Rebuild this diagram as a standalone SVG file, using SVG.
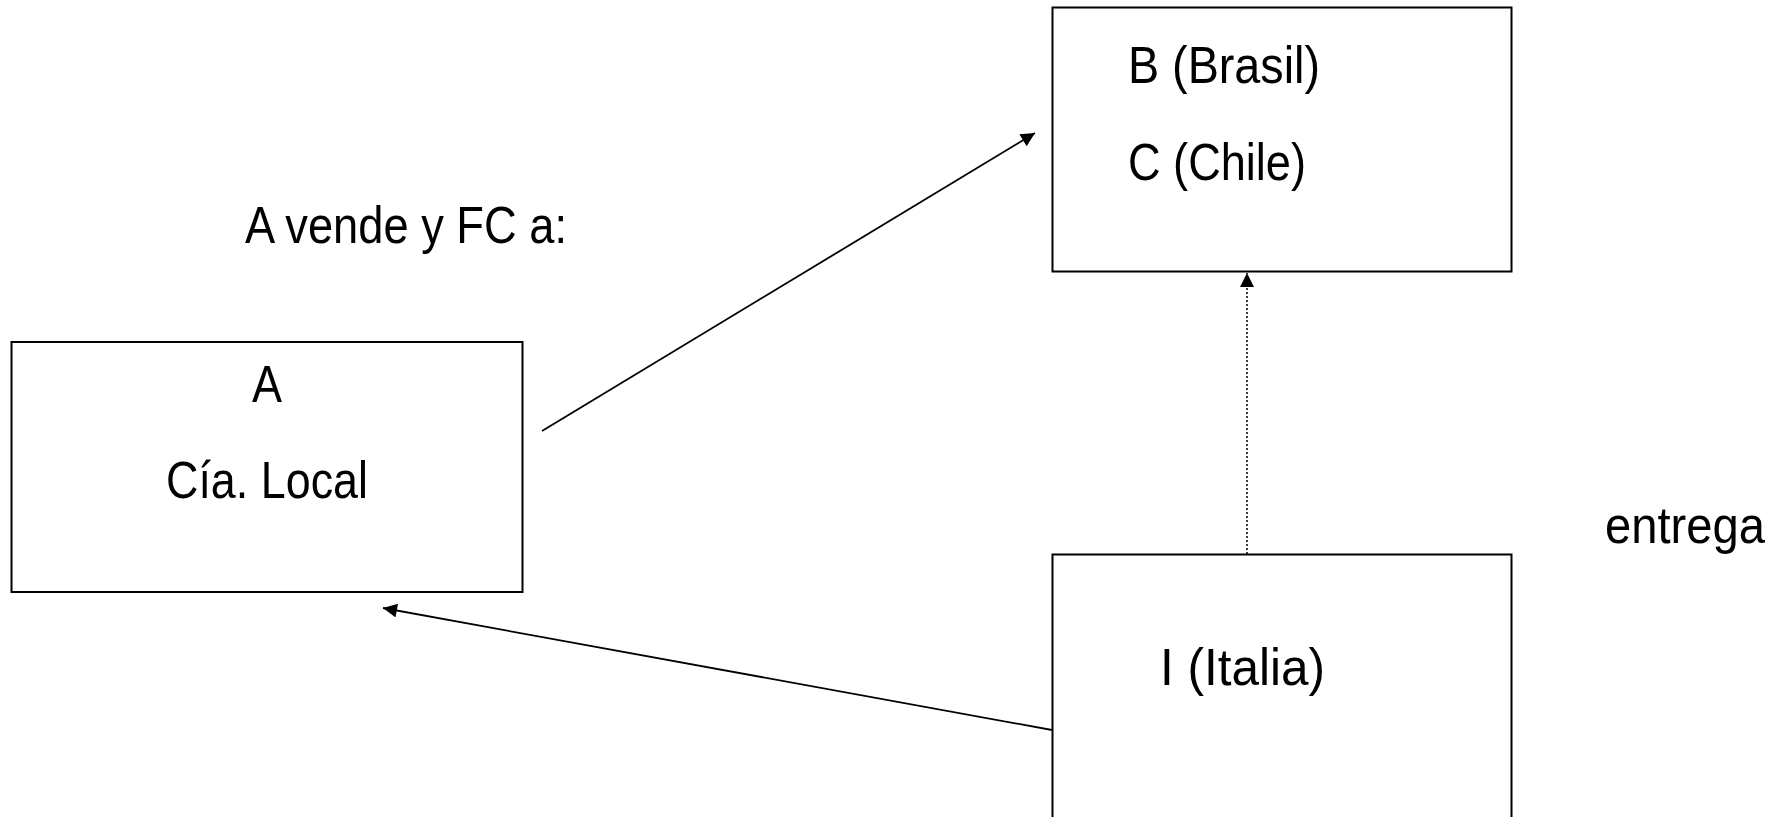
<svg xmlns="http://www.w3.org/2000/svg" width="1789" height="817" viewBox="0 0 1789 817">
<defs>
<style>
.box{fill:#fff;stroke:#000;stroke-width:2}
.t{font-family:"Liberation Sans",Arial,sans-serif;font-size:52px;fill:#000}
.c{stroke:#000;stroke-width:1.8;fill:none}
.d{stroke:#000;stroke-width:1.5;fill:none;stroke-dasharray:2 2}
</style>
<marker id="ahb" viewBox="0 0 10 10" refX="10" refY="5" markerWidth="16" markerHeight="14" markerUnits="userSpaceOnUse" orient="auto">
<path d="M0,0 L10,5 L0,10 z" fill="#000"/>
</marker>
</defs>
<rect width="1789" height="817" fill="#fff"/>
<g id="nodeA">
<rect class="box" x="11.5" y="342" width="511" height="250"/>
<text class="t" x="267" y="402" text-anchor="middle" textLength="30" lengthAdjust="spacingAndGlyphs">A</text>
<text class="t" x="267" y="498" text-anchor="middle" textLength="202" lengthAdjust="spacingAndGlyphs">Cía. Local</text>
</g>
<g id="nodeB">
<rect class="box" x="1052.5" y="7.5" width="459" height="264"/>
<text class="t" x="1128" y="83" textLength="192" lengthAdjust="spacingAndGlyphs">B (Brasil)</text>
<text class="t" x="1128" y="180" textLength="178" lengthAdjust="spacingAndGlyphs">C (Chile)</text>
</g>
<g id="nodeI">
<rect class="box" x="1052.5" y="554.5" width="459" height="300"/>
<text class="t" x="1160" y="685" textLength="165" lengthAdjust="spacingAndGlyphs">I (Italia)</text>
</g>
<g id="labels">
<text class="t" x="245" y="243" textLength="322" lengthAdjust="spacingAndGlyphs">A vende y FC a:</text>
<text class="t" x="1605" y="543" textLength="160" lengthAdjust="spacingAndGlyphs">entrega</text>
</g>
<g id="connectors">
<line class="c" x1="542" y1="431" x2="1035" y2="133" marker-end="url(#ahb)"/>
<line class="c" x1="1052" y1="730" x2="383" y2="608" marker-end="url(#ahb)"/>
<line class="d" x1="1247" y1="554" x2="1247" y2="273" marker-end="url(#ahb)"/>
</g>
</svg>
